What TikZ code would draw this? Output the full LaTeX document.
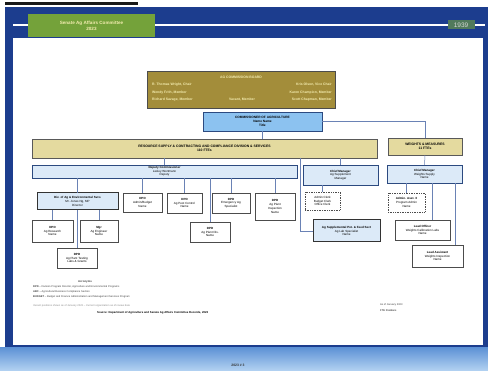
\documentclass[tikz,border=0pt]{standalone}
\usepackage{fontspec}
\setmainfont{Liberation Sans}
\usetikzlibrary{shadows}
\definecolor{frameblue}{HTML}{1C3D8E}
\definecolor{bandtop}{HTML}{5F93D6}
\definecolor{bandbot}{HTML}{B4D3F2}
\definecolor{titlegreen}{HTML}{74A23A}
\definecolor{titletext}{HTML}{F4EDB0}
\definecolor{boardgold}{HTML}{A38D3A}
\definecolor{bargold}{HTML}{E4DA9F}
\definecolor{commblue}{HTML}{8CC2F0}
\definecolor{paleblue}{HTML}{DCEAF8}
\definecolor{edgeblue}{HTML}{2C4A80}
\definecolor{linkblue}{HTML}{6A82B5}
\newcommand\orgbox[7]{%
  \node[#2, minimum width={(#5-#3)*1pt}, minimum height={(#6-#4)*1pt}]
    (#1) at ({(#3+#5)/2},{(#4+#6)/2}) {#7};}
\newcommand\smallfont{\fontsize{3}{3.7}\selectfont}
\tikzset{
  base/.style={inner sep=0pt, outer sep=0pt, align=center},
  boardbox/.style={base, fill=boardgold, draw=black!70, line width=0.6pt,
    drop shadow={shadow xshift=1pt, shadow yshift=-1pt, fill=black!40}},
  commbox/.style={base, fill=commblue, draw=edgeblue, line width=0.8pt,
    font=\fontsize{3.2}{3.9}\selectfont\bfseries},
  barbox/.style={base, fill=bargold, draw=black!65, line width=0.6pt,
    drop shadow={shadow xshift=1pt, shadow yshift=-1pt, fill=black!45},
    font=\fontsize{3.4}{4.2}\selectfont\bfseries},
  bluebox/.style={base, fill=paleblue, draw=edgeblue, line width=0.7pt,
    drop shadow={shadow xshift=0.8pt, shadow yshift=-0.8pt, fill=black!35},
    font=\smallfont},
  thickbox/.style={base, fill=paleblue, draw=black!80, line width=1pt,
    font=\smallfont},
  whitebox/.style={base, fill=white, draw=black!70, line width=0.7pt,
    drop shadow={shadow xshift=0.8pt, shadow yshift=-0.8pt, fill=black!35},
    font=\smallfont},
  dotbox/.style={base, fill=white, draw=black!70, line width=0.7pt, densely dotted,
    font=\smallfont},
  link/.style={draw=linkblue, line width=0.5pt},
  boardtext/.style={text=titletext, font=\fontsize{3.4}{4}\selectfont\bfseries, inner sep=0pt},
  legend/.style={font=\fontsize{2.6}{3.2}\selectfont, inner sep=0pt, anchor=west, text=black!75}
}
\begin{document}
\begin{tikzpicture}[x=1pt,y=-1pt]
\useasboundingbox (0,0) rectangle (488,371);
\fill[white] (0,0) rectangle (488,371);
% top black rule
\fill[black!90] (5,2) rectangle (138,5);
% blue frame
\fill[frameblue] (5,7) rectangle (488,352);
\shade[top color=bandtop, bottom color=bandbot] (0,348) rectangle (488,371);
\fill[white] (13,38) rectangle (483,345);
% title line and box
\draw[white, line width=1.2pt] (13,25) -- (485,25);
\node[base, fill=titlegreen, minimum width=127pt, minimum height=23pt,
  text=titletext, font=\fontsize{4.6}{6}\selectfont\bfseries] (title) at (91.5,26)
  {Senate Ag Affairs Committee\\2023};
\node[base, fill=titlegreen!60!frameblue, minimum width=27pt, minimum height=9pt,
  text=white!85!black, font=\fontsize{6.5}{7}\selectfont] (year) at (461,25) {1939};

% board
\orgbox{board}{boardbox}{147}{71}{335}{108}{}
\node[boardtext] (bt) at (241,77) {AG COMMISSION BOARD};
\node[boardtext, anchor=west] (b1) at (152,85) {R. Thomas Wright, Chair};
\node[boardtext, anchor=east] (b2) at (332,85) {Kris Olson, Vice Chair};
\node[boardtext, anchor=west] (b3) at (152,93) {Wendy Frith, Member};
\node[boardtext, anchor=east] (b4) at (332,93) {Karen Champion, Member};
\node[boardtext, anchor=west] (b5) at (152,100) {Richard Savage, Member};
\node[boardtext] (b6) at (242,100) {Vacant, Member};
\node[boardtext, anchor=east] (b7) at (332,100) {Scott Chapman, Member};

% commissioner
\orgbox{comm}{commbox}{203}{112}{322}{131}{COMMISSIONER OF AGRICULTURE\\Name Name\\Title}

% division bars
\orgbox{bar}{barbox}{32}{139}{377}{158}{RESOURCE SUPPLY \& CONTRACTING AND COMPLIANCE DIVISION \& SERVICES\\110 FTEs}
\orgbox{wm}{barbox}{388}{138}{462}{155}{WEIGHTS \& MEASURES\\11 FTEs}

% second row
\orgbox{dep}{bluebox}{32}{165}{297}{178}{\bfseries Deputy Commissioner\\Lesley Wortmann\\Deputy}
\orgbox{mid}{bluebox}{303}{165}{378}{185}{\bfseries Chief Manager\\Ag Supplement\\Manager}
\orgbox{wr}{bluebox}{387}{165}{462}{183}{\bfseries Chief Manager\\Weights Supply\\Name}

% third row
\orgbox{A}{thickbox}{37}{193}{118}{210}{\bfseries Div. of Ag \& Environmental Svcs\\Mr. Jones Ng, MP\\Director}
\orgbox{B}{whitebox}{123}{193}{162}{212}{\bfseries DPD\\Admin/Budget\\Name}
\orgbox{C}{whitebox}{167}{193}{202}{213}{\bfseries DPD\\Ag Pest Control\\Name}
\orgbox{D}{whitebox}{212}{193}{250}{213}{\bfseries DPD\\Emergency Ag\\Specialist}
\orgbox{E}{whitebox}{255}{193}{295}{220}{\bfseries DPD\\Ag Plant\\Inspection\\Name}
\orgbox{F}{whitebox}{190}{222}{230}{242}{\bfseries DPD\\Ag Plant Dis.\\Name}
\orgbox{G}{whitebox}{32}{220}{73}{242}{\bfseries DPD\\Ag Research\\Name}
\orgbox{H}{whitebox}{80}{220}{118}{242}{\bfseries Mgr\\Ag Engineer\\Name}
\orgbox{I}{whitebox}{57}{248}{97}{268}{\bfseries DPD\\Ag Plant Testing\\Labs \& Grants}
\orgbox{J}{dotbox}{305}{192}{340}{210}{Admin Clerk\\Budget Clerk\\Office Clerk}
\orgbox{K}{thickbox}{313}{220}{380}{242}{\bfseries Ag Supplemental Pet. \& Feed Sect\\Ag Lab Specialist\\Name}
\orgbox{L}{dotbox}{388}{193}{425}{212}{\bfseries Admin. Asst. II\\Program Admin\\Name}
\orgbox{M}{whitebox}{395}{220}{450}{240}{\bfseries Lead Officer\\Weights Calibration Labs\\Name}
\orgbox{N}{whitebox}{412}{245}{463}{267}{\bfseries Lead Assistant\\Weights Inspection\\Name}

% connectors
\draw[link] (comm.south) -- (comm.south |- bar.north);
\draw[link] (comm.east) -| (wm.north);
\draw[link] (dep.north |- bar.south) -- (dep.north);
\draw[link] (mid.north |- bar.south) -- (mid.north);
\draw[link] (wm.south) -- (wr.north);
\coordinate (kx) at (300,0);
\draw[link] (bar.south -| kx) |- (K.west);
\foreach \b in {A,B,C,D,E,F}{\draw[link] (\b.north |- dep.south) -- (\b.north);}
\foreach \b in {G,H,I}{\draw[link] (\b.north |- A.south) -- (\b.north);}
\draw[link] (J.north |- mid.south) -- (J.north);
\draw[link] (L.north |- wr.south) -- (L.north);
\coordinate (mtop) at ([xshift=10pt]M.north);
\draw[link] (mtop |- wr.south) -- (mtop);
\coordinate (ntop) at ([xshift=17.5pt]N.north);
\draw[link] (ntop |- wr.south) -- (ntop);

% legend
\node[legend, anchor=center, font=\fontsize{2.8}{3.2}\selectfont\bfseries] (lg0) at (85,282) {Acronyms};
\node[legend] (lg1) at (33,287) {\textbf{DPD} -- Division Program Director, Agriculture and Environmental Programs};
\node[legend] (lg2) at (33,292) {\textbf{ABC} -- Agricultural Business Compliance Section};
\node[legend] (lg3) at (33,297) {\textbf{BUDGET} -- Budget and Finance Administration and Management Services Program};
\node[legend, text=black!45] (lg4) at (33,306) {Vacant positions shown as of January 2023 -- Current organization as of review date};
\node[legend, text=black, font=\fontsize{2.8}{3.2}\selectfont\bfseries] (lg5) at (97,313) {Source: Department of Agriculture and Senate Ag Affairs Committee Records, 2023};
\node[legend] (lg6) at (380,305) {As of January 2023};
\node[legend, text=black] (lg7) at (380,311) {FTE Positions};

% footer
\node[base, font=\fontsize{3.4}{4}\selectfont\bfseries, text=black!80] (foot) at (238,365) {2023 \# 3};
\end{tikzpicture}
\end{document}
